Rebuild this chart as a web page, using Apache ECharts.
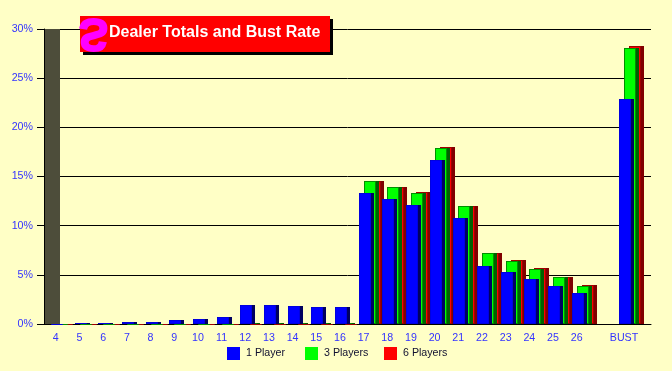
<!DOCTYPE html>
<html>
<head>
<meta charset="utf-8">
<style>
html, body { margin: 0; padding: 0; background: #ffffc6; }
#chart { width: 672px; height: 371px; }
</style>
<script src="https://cdn.jsdelivr.net/npm/echarts@6/dist/echarts.min.js"></script>
</head>
<body>
<div id="chart"></div>
<script>
var categories = ['4','5','6','7','8','9','10','11','12','13','14','15','16','17','18','19','20','21','22','23','24','25','26','','BUST'];
var onePlayer = [0.05,0.15,0.15,0.25,0.25,0.4,0.55,0.75,1.95,1.95,1.85,1.75,1.75,13.3,12.7,12.1,16.7,10.8,5.9,5.3,4.6,3.9,3.2,null,22.9];
var threePlayers = [0,0,0,0,0,0.02,0.03,0.03,0.1,0.1,0.1,0.1,0.1,14.5,13.9,13.3,17.9,12.0,7.2,6.4,5.6,4.8,3.9,null,28.1];
var sixPlayers = [0,0,0,0,0,0.01,0.02,0.02,0.03,0.03,0.03,0.03,0.03,14.5,13.9,13.4,18.0,12.0,7.2,6.5,5.7,4.8,4.0,null,28.3];
var wallValues = [30];

// bars are drawn by hand so they get the fake 3d side face
function bar3d(offset, front, side, border) {
    return function (params, api) {
        var top = api.coord([api.value(0), api.value(1)]);
        var base = api.coord([api.value(0), 0]);
        var x = Math.round(top[0] + offset);
        var y = Math.round(top[1]);
        var h = Math.round(base[1]) - y;
        return {
            type: 'group',
            children: [
                { type: 'rect', shape: { x: x, y: y, width: 15, height: h }, style: { fill: side } },
                { type: 'rect', shape: { x: x + 0.5, y: y + 0.5, width: 11, height: Math.max(h - 1, 0) }, style: { fill: front, stroke: border, lineWidth: 1 } }
            ]
        };
    };
}

function wall(params, api) {
    var top = api.coord([api.value(0), api.value(1)]);
    var base = api.coord([api.value(0), 0]);
    return {
        type: 'rect',
        shape: { x: Math.round(top[0]) - 11, y: top[1], width: 15, height: base[1] - top[1] },
        style: { fill: '#4d4d3a' }
    };
}

function pairs(arr) {
    return arr.map(function (v, i) { return [i, v]; });
}

// one legend per entry, the swatches are not evenly spaced by text width
function legendAt(left, name) {
    return {
        left: left,
        top: 347,
        padding: 0,
        itemWidth: 13,
        itemHeight: 13,
        icon: 'rect',
        data: [name],
        textStyle: { fontSize: 10.67, color: '#101030', padding: [1, 0, 0, 1] }
    };
}

var chart = echarts.init(document.getElementById('chart'));
chart.setOption({
    animation: false,
    backgroundColor: '#ffffc6',
    textStyle: { fontFamily: '"Liberation Sans", Arial, sans-serif' },
    grid: { left: 44, right: 21, top: 29, bottom: 47 },
    legend: [
        legendAt(227, '1 Player'),
        legendAt(305, '3 Players'),
        legendAt(384, '6 Players')
    ],
    xAxis: {
        type: 'value',
        min: -0.5,
        max: 25.14,
        interval: 0.5,
        splitLine: { show: false },
        axisTick: { show: false },
        axisLine: { show: true, lineStyle: { color: '#000', width: 1 } },
        axisLabel: {
            color: '#3333ff',
            fontSize: 10.67,
            margin: 9,
            showMinLabel: false,
            showMaxLabel: false,
            formatter: function (v) {
                return Number.isInteger(v) ? categories[v] : '';
            }
        }
    },
    yAxis: {
        type: 'value',
        min: 0,
        max: 30,
        interval: 5,
        axisLine: { show: true, onZero: false, lineStyle: { color: '#000', width: 1 } },
        axisTick: { show: true, length: 7, lineStyle: { color: '#000' } },
        splitLine: { show: true, lineStyle: { color: '#000', width: 1 } },
        axisLabel: { color: '#3333ff', fontSize: 10.67, margin: 11, formatter: '{value}%' }
    },
    series: [
        { name: 'wall', type: 'custom', z: 5, renderItem: wall, data: pairs(wallValues), encode: { x: 0, y: 1 } },
        { name: '6 Players', type: 'custom', z: 6, itemStyle: { color: '#ff0000' }, renderItem: bar3d(5, '#ff0000', '#800000', '#a00000'), data: pairs(sixPlayers), encode: { x: 0, y: 1 } },
        { name: '3 Players', type: 'custom', z: 7, itemStyle: { color: '#00ff00' }, renderItem: bar3d(0, '#00ff00', '#006000', '#009000'), data: pairs(threePlayers), encode: { x: 0, y: 1 } },
        { name: '1 Player', type: 'custom', z: 8, itemStyle: { color: '#0000ff' }, renderItem: bar3d(-5, '#0000ff', '#000060', '#0000e0'), data: pairs(onePlayer), encode: { x: 0, y: 1 } }
    ],
    graphic: [
        { type: 'rect', z: 20, shape: { x: 83, y: 19, width: 250, height: 36 }, style: { fill: '#000' } },
        { type: 'rect', z: 21, shape: { x: 80, y: 16, width: 250, height: 36 }, style: { fill: '#ff0000' } },
        { type: 'text', z: 22, x: 93.5, y: 31.5, scaleX: 0.95, scaleY: -1,
          style: { text: 'S', fill: '#ff00ff', stroke: '#ff00ff', lineWidth: 2, font: 'bold 46px "Liberation Sans"', align: 'center', verticalAlign: 'middle' } },
        { type: 'text', z: 22, x: 109, y: 33,
          style: { text: 'Dealer Totals and Bust Rate', fill: '#fff', font: 'bold 16px "Liberation Sans"', verticalAlign: 'middle' } }
    ]
});
</script>
</body>
</html>
